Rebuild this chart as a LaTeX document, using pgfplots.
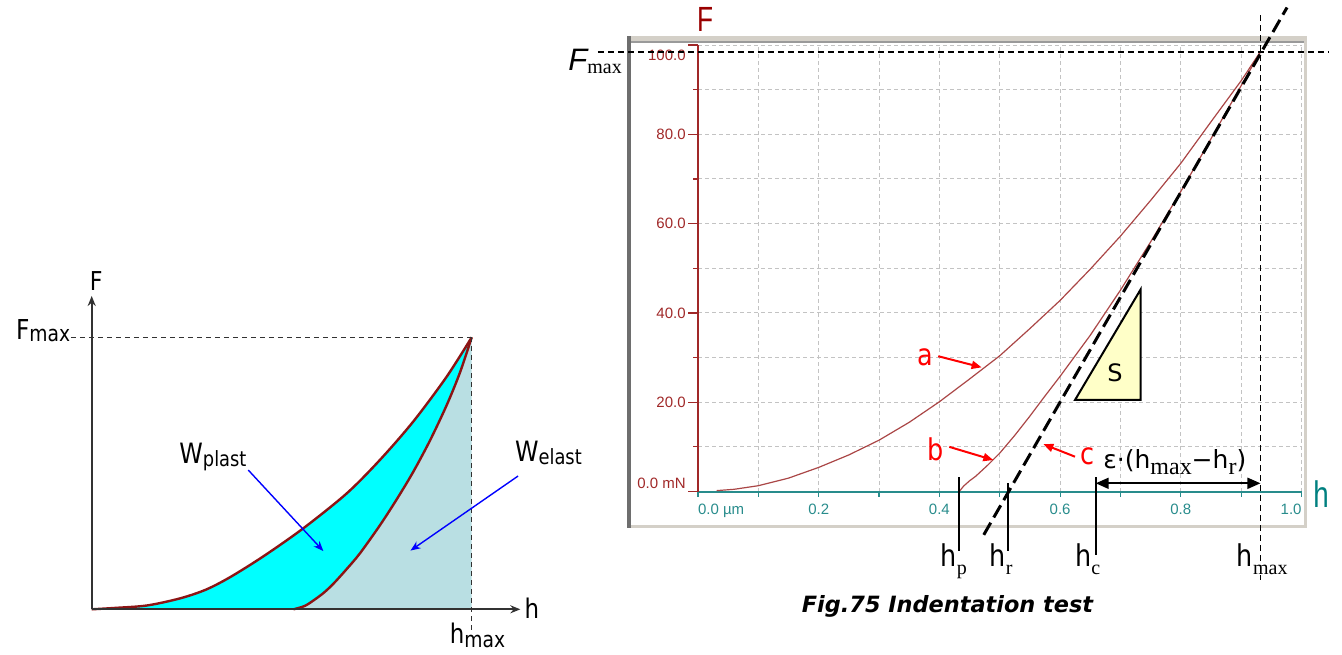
\documentclass[border=0pt]{standalone}
\usepackage{fontspec}
\setmainfont{Liberation Sans}
\newfontfamily\dvs[FakeStretch=0.85]{DejaVu Sans}
\newfontfamily\dvsn{DejaVu Sans}
\newfontfamily\tms{Liberation Serif}
\newfontfamily\lsn[FakeStretch=0.75]{Liberation Sans}
\usepackage{pgfplots}
\pgfplotsset{compat=1.18}
\usetikzlibrary{arrows.meta}
\definecolor{dred}{RGB}{160,40,40}
\definecolor{fred}{RGB}{153,0,0}
\definecolor{tealx}{RGB}{40,140,140}
\definecolor{hteal}{RGB}{0,128,128}
\definecolor{curvec}{RGB}{170,70,70}
\definecolor{lcurve}{RGB}{140,20,20}
\definecolor{lfill}{RGB}{185,223,227}
\definecolor{cyanf}{RGB}{0,255,255}
\definecolor{gridc}{RGB}{195,195,195}
\definecolor{tri}{RGB}{255,255,200}
\definecolor{frameL}{RGB}{212,208,200}
\definecolor{frameD}{RGB}{110,110,110}
\definecolor{axc}{RGB}{50,50,50}
\newcommand{\hlab}[1]{{\dvs\fontsize{15}{18}\selectfont h}\rlap{\tms\fontsize{10}{12}\selectfont\raisebox{-4pt}{#1}}}
\begin{document}
\begin{tikzpicture}
\useasboundingbox (0,0) rectangle (671pt,-327pt);
% panel frame of the right chart
\begin{scope}[x=0.5pt,y=-0.5pt]
\fill[frameL] (627,36) rectangle (1307,41.5);
\fill[frameL] (1303.5,36) rectangle (1307,527.5);
\fill[frameL] (627,524.5) rectangle (1307,527.5);
\fill[frameD!70] (627,41) rectangle (1303.5,43);
\fill[frameD] (627,36) rectangle (630.5,527.5);
\end{scope}

% ---------------- left chart ----------------
\begin{axis}[at={(45.85pt,-304.65pt)}, anchor=south west, scale only axis,
  width=190pt, height=136pt, xmin=0, xmax=1, ymin=0, ymax=1,
  axis lines=none, clip=false]
\addplot[fill=cyanf, draw=none] coordinates {(0,0) (0.06,0.005) (0.145,0.014) (0.232,0.040) (0.30,0.072) (0.364,0.118) (0.452,0.195) (0.557,0.298) (0.671,0.426) (0.759,0.550) (0.846,0.690) (0.934,0.855) (1,1)
 (0.969,0.870) (0.934,0.750) (0.890,0.620) (0.846,0.505) (0.803,0.405) (0.759,0.310) (0.706,0.206) (0.671,0.148) (0.636,0.094) (0.61,0.060) (0.583,0.032) (0.56,0.012) (0.531,0)};
\addplot[fill=lfill, draw=none] coordinates {(0.531,0) (0.56,0.012) (0.583,0.032) (0.61,0.060) (0.636,0.094) (0.671,0.148) (0.706,0.206) (0.759,0.310) (0.803,0.405) (0.846,0.505) (0.890,0.620) (0.934,0.750) (0.969,0.870) (1,1) (1,0)};
\addplot[lcurve, line width=1.2pt, smooth] coordinates {(0,0) (0.06,0.005) (0.145,0.014) (0.232,0.040) (0.30,0.072) (0.364,0.118) (0.452,0.195) (0.557,0.298) (0.671,0.426) (0.759,0.550) (0.846,0.690) (0.934,0.855) (1,1)};
\addplot[lcurve, line width=1.2pt, smooth] coordinates {(0.531,0) (0.56,0.012) (0.583,0.032) (0.61,0.060) (0.636,0.094) (0.671,0.148) (0.706,0.206) (0.759,0.310) (0.803,0.405) (0.846,0.505) (0.890,0.620) (0.934,0.750) (0.969,0.870) (1,1)};
\draw[axc, line width=0.7pt, dash pattern=on 2.5pt off 2pt] (axis cs:-0.0545,1) -- (axis cs:1,1);
\draw[axc, line width=0.7pt, dash pattern=on 2.5pt off 2pt] (axis cs:1,1) -- (axis cs:1,-0.082);
\draw[axc, line width=0.9pt, -{Stealth[length=5pt,width=4pt]}] (axis cs:0,0) -- (axis cs:1.128,0);
\draw[axc, line width=0.9pt, -{Stealth[length=5pt,width=4pt]}] (axis cs:0,0) -- (axis cs:0,1.152);
\draw[blue, line width=0.7pt, -{Stealth[length=5pt,width=4pt]}] (axis cs:0.412,0.512) -- (axis cs:0.6095,0.2143);
\draw[blue, line width=0.7pt, -{Stealth[length=5pt,width=4pt]}] (axis cs:1.122,0.490) -- (axis cs:0.839,0.216);
\node[inner sep=0] at (axis cs:0.012,1.207) {\dvs\fontsize{13}{15}\selectfont F};
\node[anchor=base east, inner sep=0] at (axis cs:-0.0555,0.992) {\dvs\fontsize{13.7}{16}\selectfont F\fontsize{11}{13}\selectfont\raisebox{-1pt}{max}};
\node[anchor=base west, inner sep=0] at (axis cs:1.138,-0.032) {\dvs\fontsize{13.5}{16}\selectfont h};
\node[anchor=base west, inner sep=0] at (axis cs:0.9416,-0.125) {\dvs\fontsize{13.5}{16}\selectfont h\fontsize{11}{13}\selectfont\raisebox{-2pt}{max}};
\node[anchor=base west, inner sep=0] at (axis cs:0.2297,0.536) {\dvs\fontsize{14}{16}\selectfont W\fontsize{10.5}{12}\selectfont\raisebox{-1.5pt}{plast}};
\node[anchor=base west, inner sep=0] at (axis cs:1.113,0.545) {\dvs\fontsize{14}{16}\selectfont W\fontsize{10.5}{12}\selectfont\raisebox{-1.5pt}{elast}};
\end{axis}

% ---------------- right chart ----------------
\begin{axis}[at={(349pt,-245.75pt)}, anchor=south west, scale only axis,
  width=301.75pt, height=223.25pt, xmin=0, xmax=1, ymin=0, ymax=100,
  clip=false,
  axis lines*=left, axis line style={-},
  x axis line style={tealx, line width=1pt},
  y axis line style={dred, line width=1pt},
  xtick={0,0.2,0.4,0.6,0.8,1},
  xticklabels={{\rlap{0.0 µm}},0.2,0.4,0.6,0.8,{\llap{1.0}}},
  ytick={0,20,40,60,80,100},
  yticklabels={{\raisebox{1.5pt}[0pt][0pt]{0.0 mN}},20.0,40.0,60.0,80.0,{\raisebox{-7.7pt}[0pt][0pt]{100.0}}},
  minor x tick num=1, minor y tick num=1,
  grid=both, grid style={gridc, dash pattern=on 2pt off 1.5pt, line width=0.5pt},
  tick align=outside, major tick length=5pt, minor tick length=2.5pt,
  xtick style={tealx, line width=0.6pt, /pgfplots/major tick length=2.5pt},
  ytick style={dred, line width=0.6pt},
  xticklabel style={font=\fontsize{7.5}{9}\selectfont, text=tealx, inner sep=1pt},
  yticklabel style={font=\fontsize{7.5}{9}\selectfont, text=dred, inner sep=1pt},
]
\addplot[curvec, line width=0.6pt] coordinates {(0.031,0.2) (0.06,0.5) (0.10,1.3) (0.15,3.0) (0.20,5.4) (0.25,8.2) (0.30,11.5) (0.35,15.5) (0.40,20.1) (0.45,25.2) (0.50,30.4) (0.55,36.5) (0.60,42.8) (0.65,49.8) (0.70,57.2) (0.75,65.2) (0.80,73.5) (0.85,82.8) (0.90,92.0) (0.932,98.5)};
\addplot[curvec, line width=0.6pt] coordinates {(0.433,0) (0.44,1.2) (0.45,2.4) (0.46,3.4) (0.48,5.9) (0.50,8.6) (0.525,12.6) (0.55,16.9) (0.575,21.4) (0.60,25.8) (0.625,30.4) (0.65,35.0) (0.70,45.1) (0.75,55.9) (0.80,67.2) (0.85,79.0) (0.90,90.9) (0.932,98.5)};
\addplot[black, line width=1.5pt, dash pattern=on 7pt off 3pt] coordinates {(0.4735,-9.7) (0.976,108.4)};
% Fmax / hmax
\draw[black, line width=0.9pt, dash pattern=on 3pt off 2pt] (axis cs:-0.166,98.5) -- (axis cs:1.044,98.5);
\draw[black, line width=0.9pt, dash pattern=on 3pt off 2pt] (axis cs:0.932,106.7) -- (axis cs:0.932,-19.8);
% triangle S
\draw[fill=tri, line width=1pt] (axis cs:0.6247,20.5) -- (axis cs:0.7336,20.5) -- (axis cs:0.7336,45.3) -- cycle;
\node at (axis cs:0.691,26.5) {\dvsn\fontsize{12}{14}\selectfont S};
% vertical markers
\draw[black, line width=1pt] (axis cs:0.433,3.25) -- (axis cs:0.433,-13.3);
\draw[black, line width=1pt] (axis cs:0.514,1.9) -- (axis cs:0.514,-13.3);
\draw[black, line width=1pt] (axis cs:0.659,3.25) -- (axis cs:0.659,-14.2);
\draw[black, line width=0.9pt, {Triangle[length=6.5pt,width=5.5pt]}-{Triangle[length=6.5pt,width=5.5pt]}] (axis cs:0.659,1.84) -- (axis cs:0.932,1.84);
% labels under the axis
\node[anchor=base east, inner sep=0] at (axis cs:0.4297,-16.84) {\hlab{p}};
\node[anchor=base east, inner sep=0] at (axis cs:0.5109,-16.84) {\hlab{r}};
\node[anchor=base east, inner sep=0] at (axis cs:0.6523,-16.84) {\hlab{c}};
\node[anchor=base east, inner sep=0] at (axis cs:0.9205,-16.84) {\hlab{max}};
\node[anchor=base west, inner sep=0] at (axis cs:0.671,5.26) {\dvsn\fontsize{12.5}{15}\selectfont ε·(h{\tms\fontsize{12}{14}\selectfont\raisebox{-3.3pt}{max}}−h{\tms\fontsize{12}{14}\selectfont\raisebox{-3.3pt}{r}})};
% a b c
\node[inner sep=0] at (axis cs:0.377,30.1) {\dvs\fontsize{15}{18}\selectfont\color{red}a};
\node[inner sep=0] at (axis cs:0.394,9.4) {\dvs\fontsize{15}{18}\selectfont\color{red}b};
\node[inner sep=0] at (axis cs:0.6454,7.8) {\dvs\fontsize{15}{18}\selectfont\color{red}c};
\draw[red, line width=1pt, -{Triangle[length=5pt,width=4pt]}] (axis cs:0.398,30.3) -- (axis cs:0.470,27.8);
\draw[red, line width=1pt, -{Triangle[length=5pt,width=4pt]}] (axis cs:0.4164,10.0) -- (axis cs:0.4893,7.05);
\draw[red, line width=1pt, -{Triangle[length=5pt,width=4pt]}] (axis cs:0.6247,7.8) -- (axis cs:0.5722,10.6);
% axis names
\node[anchor=west, inner sep=0] at (axis cs:-0.002,105.8) {\lsn\fontsize{17.5}{20}\selectfont\color{fred}F};
\node[anchor=base west, inner sep=0] at (axis cs:1.019,-3.47) {\lsn\fontsize{18.5}{21}\selectfont\color{hteal}h};
\node[anchor=base west, inner sep=0] at (axis cs:-0.2154,94.4) {{\fontsize{15.5}{18}\selectfont\itshape F}{\tms\fontsize{10}{12}\selectfont\raisebox{-1.5pt}{max}}};
% caption
\node[anchor=base, inner sep=0] at (axis cs:0.4134,-27.0) {\dvsn\bfseries\itshape\fontsize{11.2}{13}\selectfont Fig.75 Indentation test};
\end{axis}
\end{tikzpicture}
\end{document}
